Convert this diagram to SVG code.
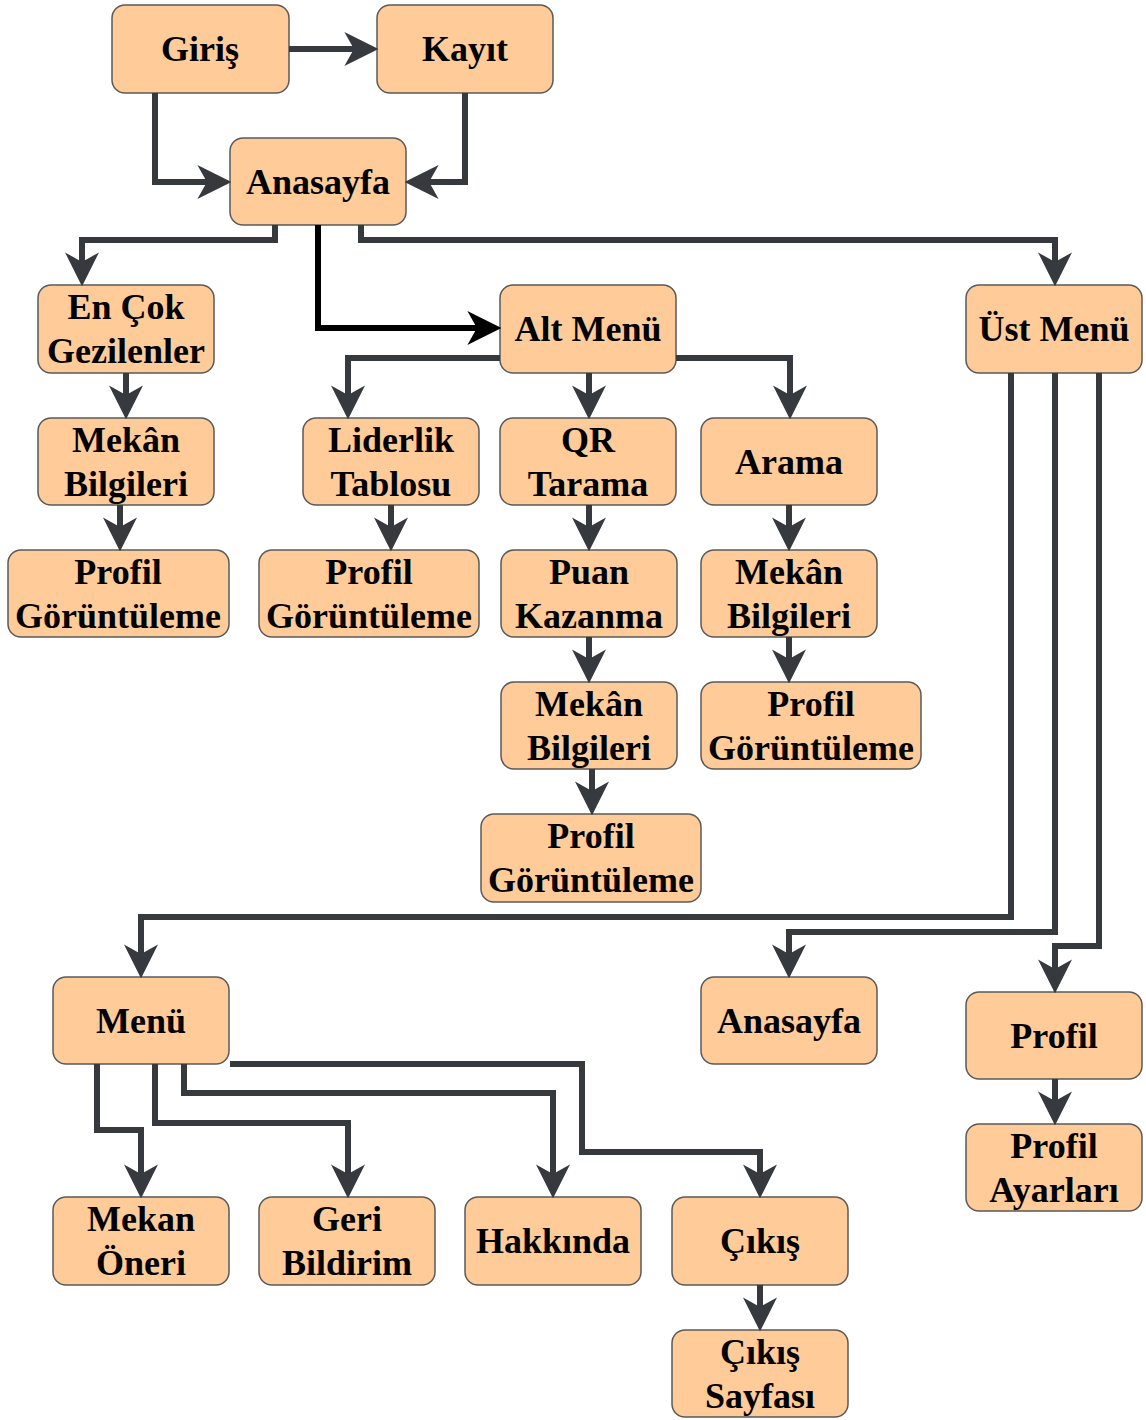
<svg xmlns="http://www.w3.org/2000/svg" width="1146" height="1420" viewBox="0 0 1146 1420">
  <style>
    .box { fill: #FFCC99; stroke: #5a5a5a; stroke-width: 1.5; }
    .lbl { font-family: "Liberation Serif", "Times New Roman", Times, Tinos, "DejaVu Serif", "Noto Serif", serif; font-weight: bold; font-size: 36px; fill: #000; text-anchor: middle; }
    .edge { fill: none; stroke: #36393D; stroke-width: 6; }
    .edge.dark { stroke: #000; }
  </style>
  <defs>
    <marker id="arrow" markerUnits="userSpaceOnUse" markerWidth="34" markerHeight="34" viewBox="0 0 32 32" refX="10" refY="16" orient="auto">
      <path d="M0,0 L32,16 L0,32 L9,16 Z" fill="#36393D"/>
    </marker>
    <marker id="arrow-dark" markerUnits="userSpaceOnUse" markerWidth="34" markerHeight="34" viewBox="0 0 32 32" refX="10" refY="16" orient="auto">
      <path d="M0,0 L32,16 L0,32 L9,16 Z" fill="#000"/>
    </marker>
  </defs>

  <rect width="1146" height="1420" fill="#fff"/>

  <!-- nodes -->
  <g id="giris"><rect class="box" x="112" y="5" width="177" height="88" rx="13"/><text class="lbl" x="200" y="61">Giriş</text></g>
  <g id="kayit"><rect class="box" x="377" y="5" width="176" height="88" rx="13"/><text class="lbl" x="465" y="61">Kayıt</text></g>
  <g id="anasayfa"><rect class="box" x="230" y="138" width="176" height="87" rx="13"/><text class="lbl" x="318" y="194">Anasayfa</text></g>

  <g id="en-cok-gezilenler"><rect class="box" x="38" y="285" width="176" height="88" rx="13"/><text class="lbl" x="126" y="319">En Çok</text><text class="lbl" x="126" y="363">Gezilenler</text></g>
  <g id="alt-menu"><rect class="box" x="500" y="285" width="176" height="88" rx="13"/><text class="lbl" x="588" y="341">Alt Menü</text></g>
  <g id="ust-menu"><rect class="box" x="966" y="285" width="176" height="88" rx="13"/><text class="lbl" x="1054" y="341">Üst Menü</text></g>

  <g id="mekan-bilgileri-1"><rect class="box" x="38" y="418" width="176" height="87" rx="13"/><text class="lbl" x="126" y="452">Mekân</text><text class="lbl" x="126" y="496">Bilgileri</text></g>
  <g id="liderlik-tablosu"><rect class="box" x="303" y="418" width="176" height="87" rx="13"/><text class="lbl" x="391" y="452">Liderlik</text><text class="lbl" x="391" y="496">Tablosu</text></g>
  <g id="qr-tarama"><rect class="box" x="500" y="418" width="176" height="87" rx="13"/><text class="lbl" x="588" y="452">QR</text><text class="lbl" x="588" y="496">Tarama</text></g>
  <g id="arama"><rect class="box" x="701" y="418" width="176" height="87" rx="13"/><text class="lbl" x="789" y="474">Arama</text></g>

  <g id="profil-goruntuleme-1"><rect class="box" x="8" y="550" width="221" height="87" rx="13"/><text class="lbl" x="118" y="584">Profil</text><text class="lbl" x="118" y="628">Görüntüleme</text></g>
  <g id="profil-goruntuleme-2"><rect class="box" x="259" y="550" width="220" height="87" rx="13"/><text class="lbl" x="369" y="584">Profil</text><text class="lbl" x="369" y="628">Görüntüleme</text></g>
  <g id="puan-kazanma"><rect class="box" x="501" y="550" width="176" height="87" rx="13"/><text class="lbl" x="589" y="584">Puan</text><text class="lbl" x="589" y="628">Kazanma</text></g>
  <g id="mekan-bilgileri-2"><rect class="box" x="701" y="550" width="176" height="87" rx="13"/><text class="lbl" x="789" y="584">Mekân</text><text class="lbl" x="789" y="628">Bilgileri</text></g>

  <g id="mekan-bilgileri-3"><rect class="box" x="501" y="682" width="176" height="87" rx="13"/><text class="lbl" x="589" y="716">Mekân</text><text class="lbl" x="589" y="760">Bilgileri</text></g>
  <g id="profil-goruntuleme-3"><rect class="box" x="701" y="682" width="220" height="87" rx="13"/><text class="lbl" x="811" y="716">Profil</text><text class="lbl" x="811" y="760">Görüntüleme</text></g>

  <g id="profil-goruntuleme-4"><rect class="box" x="481" y="814" width="220" height="88" rx="13"/><text class="lbl" x="591" y="848">Profil</text><text class="lbl" x="591" y="892">Görüntüleme</text></g>

  <g id="menu"><rect class="box" x="53" y="977" width="176" height="87" rx="13"/><text class="lbl" x="141" y="1033">Menü</text></g>
  <g id="anasayfa-2"><rect class="box" x="701" y="977" width="176" height="87" rx="13"/><text class="lbl" x="789" y="1033">Anasayfa</text></g>
  <g id="profil"><rect class="box" x="966" y="992" width="176" height="87" rx="13"/><text class="lbl" x="1054" y="1048">Profil</text></g>
  <g id="profil-ayarlari"><rect class="box" x="966" y="1124" width="176" height="87" rx="13"/><text class="lbl" x="1054" y="1158">Profil</text><text class="lbl" x="1054" y="1202">Ayarları</text></g>

  <g id="mekan-oneri"><rect class="box" x="53" y="1197" width="176" height="88" rx="13"/><text class="lbl" x="141" y="1231">Mekan</text><text class="lbl" x="141" y="1275">Öneri</text></g>
  <g id="geri-bildirim"><rect class="box" x="259" y="1197" width="176" height="88" rx="13"/><text class="lbl" x="347" y="1231">Geri</text><text class="lbl" x="347" y="1275">Bildirim</text></g>
  <g id="hakkinda"><rect class="box" x="465" y="1197" width="176" height="88" rx="13"/><text class="lbl" x="553" y="1253">Hakkında</text></g>
  <g id="cikis"><rect class="box" x="672" y="1197" width="176" height="88" rx="13"/><text class="lbl" x="760" y="1253">Çıkış</text></g>
  <g id="cikis-sayfasi"><rect class="box" x="672" y="1330" width="176" height="87" rx="13"/><text class="lbl" x="760" y="1364">Çıkış</text><text class="lbl" x="760" y="1408">Sayfası</text></g>

  <!-- connectors -->
  <g id="connectors" marker-end="url(#arrow)">
    <path class="edge" d="M289,49 H355"/>
    <path class="edge" d="M155,93 V182 H208"/>
    <path class="edge" d="M465,93 V182 H428"/>
    <path class="edge" d="M275,225 V240 H82 V263"/>
    <path class="edge dark" marker-end="url(#arrow-dark)" d="M318,225 V328 H478"/>
    <path class="edge" d="M361,225 V240 H1055 V263"/>
    <path class="edge" d="M126,373 V396"/>
    <path class="edge" d="M120,505 V528"/>
    <path class="edge" d="M500,358 H348 V396"/>
    <path class="edge" d="M589,373 V396"/>
    <path class="edge" d="M676,358 H790 V396"/>
    <path class="edge" d="M391,505 V528"/>
    <path class="edge" d="M589,505 V528"/>
    <path class="edge" d="M789,505 V528"/>
    <path class="edge" d="M589,637 V660"/>
    <path class="edge" d="M789,637 V660"/>
    <path class="edge" d="M592,769 V792"/>
    <path class="edge" d="M1011,373 V917 H141 V955"/>
    <path class="edge" d="M1055,373 V932 H789 V955"/>
    <path class="edge" d="M1099,373 V946 H1055 V970"/>
    <path class="edge" d="M1055,1079 V1102"/>
    <path class="edge" d="M97,1064 V1130 H141 V1175"/>
    <path class="edge" d="M155,1064 V1123 H348 V1175"/>
    <path class="edge" d="M184,1064 V1093 H553 V1175"/>
    <path class="edge" d="M230,1064 H582 V1152 H760 V1175"/>
    <path class="edge" d="M760,1285 V1308"/>
  </g>
</svg>
